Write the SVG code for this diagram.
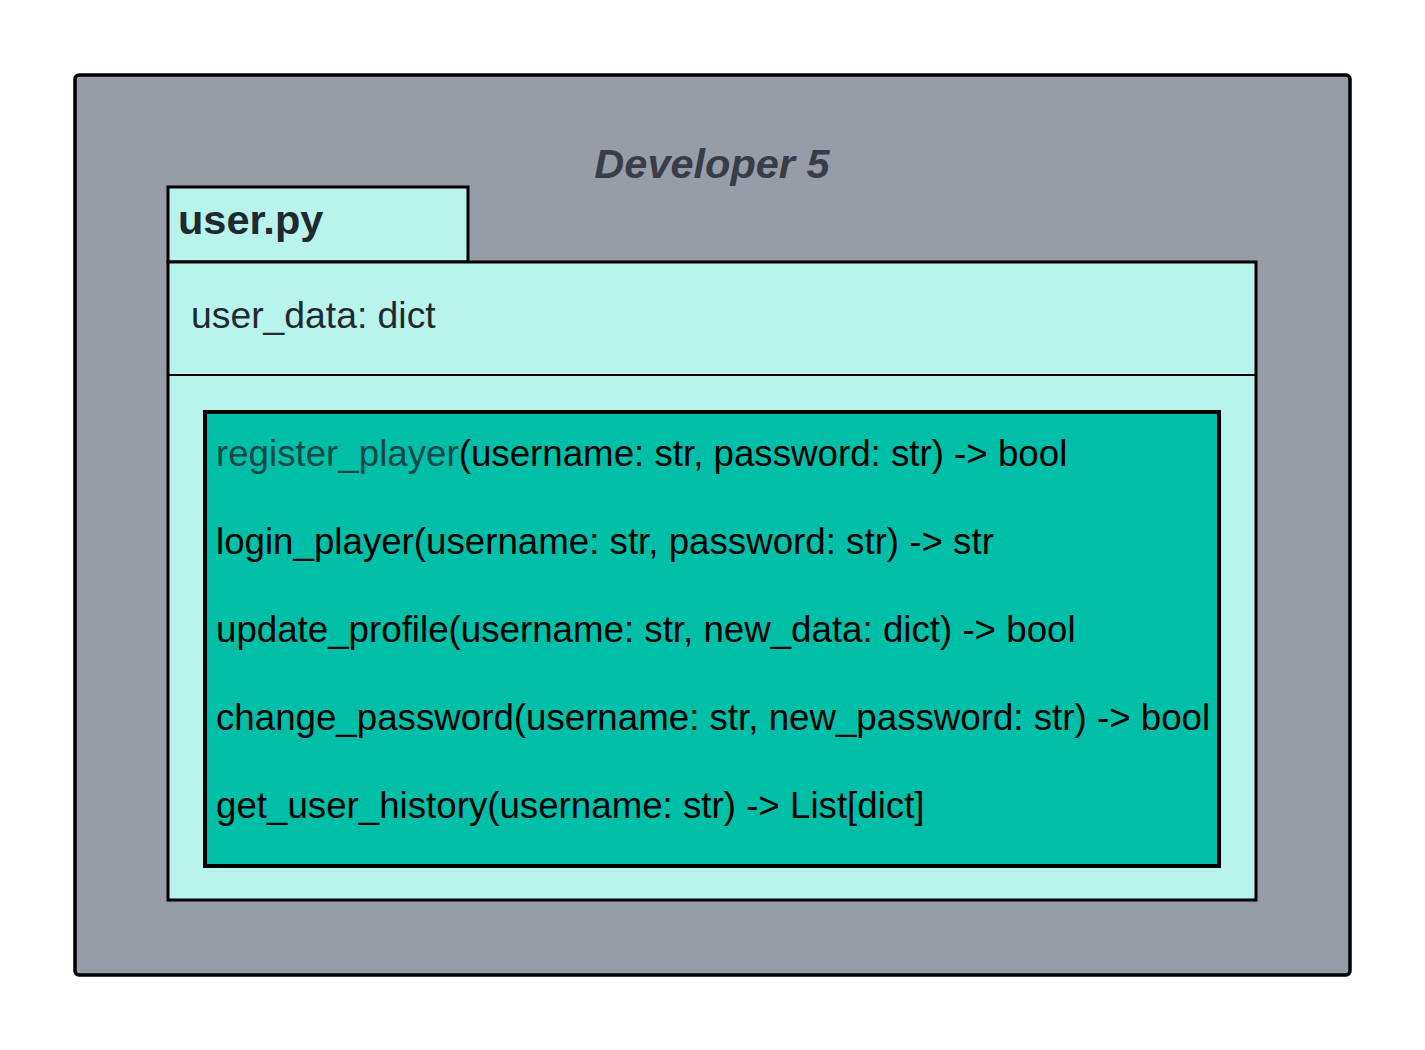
<svg xmlns="http://www.w3.org/2000/svg" width="1425" height="1050" viewBox="0 0 1425 1050">
<style>
text{font-family:"Liberation Sans",Arial,sans-serif;}
.m{font-size:36.7px;fill:#000;}
.pale{fill:#b8f4ec;stroke:#000;stroke-width:3;}
</style>
<rect width="1425" height="1050" fill="#fff"/>
<g id="developer5">
<rect x="75" y="75" width="1275" height="900" rx="4" fill="#979da7" stroke="#000" stroke-width="3.5"/>
<text x="712" y="178" text-anchor="middle" font-size="41.5" font-weight="bold" font-style="italic" fill="#383d48">Developer 5</text>
</g>
<g id="userpy">
<rect class="pale" x="168" y="187" width="300" height="75"/>
<text x="178" y="234" font-size="41.5" font-weight="bold" fill="#1e2a30">user.py</text>
<rect class="pale" x="168" y="262" width="1088" height="638"/>
<line x1="168" y1="375" x2="1256" y2="375" stroke="#000" stroke-width="2"/>
<text x="191" y="328" font-size="37.3" fill="#1e2a30">user_data: dict</text>
</g>
<g id="methods">
<rect x="205" y="412" width="1014" height="454" fill="#00bfa8" stroke="#000" stroke-width="4"/>
<text class="m" x="216" y="466"><tspan fill="#134848">register_player</tspan>(username: str, password: str) -&gt; bool</text>
<text class="m" x="216" y="554">login_player(username: str, password: str) -&gt; str</text>
<text class="m" x="216" y="642">update_profile(username: str, new_data: dict) -&gt; bool</text>
<text class="m" x="216" y="730">change_password(username: str, new_password: str) -&gt; bool</text>
<text class="m" x="216" y="818">get_user_history(username: str) -&gt; List[dict]</text>
</g>
<g id="connectors"/>
</svg>
